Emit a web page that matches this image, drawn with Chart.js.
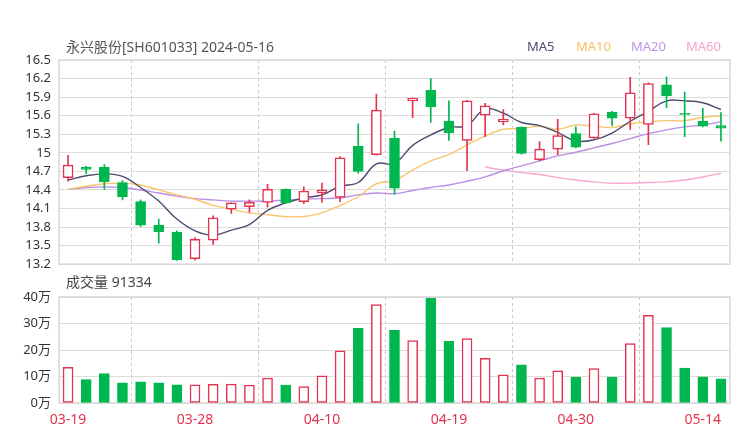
<!DOCTYPE html>
<html>
<head>
<meta charset="utf-8">
<script src="https://cdn.jsdelivr.net/npm/chart.js@4"></script>
<style>
    body { margin: 0; background: #fff; }
    #wrap { position: relative; width: 740px; height: 440px; font-family: 'Noto Sans', 'Noto Sans CJK SC', sans-serif; }
    canvas { position: absolute; left: 0; }
    .txt { position: absolute; white-space: nowrap; line-height: 20px; }
</style>
</head>
<body>
<div id="wrap">
    <canvas id="klineChart" width="740" height="280" style="top:0"></canvas>
    <canvas id="volumeChart" width="740" height="165" style="top:275px"></canvas>
    <div class="txt" style="left:66px;top:37px;font-size:14px;color:#555">永兴股份[SH601033] 2024-05-16</div>
    <div class="txt" style="left:527px;top:36px;font-size:13px;color:#4d4b70">MA5</div>
    <div class="txt" style="left:576px;top:36px;font-size:13px;color:#f6c162">MA10</div>
    <div class="txt" style="left:631px;top:36px;font-size:13px;color:#c095e8">MA20</div>
    <div class="txt" style="left:686px;top:36px;font-size:13px;color:#f5a3cb">MA60</div>
    <div class="txt" style="left:66px;top:272px;font-size:14px;color:#444">成交量 91334</div>
</div>
<script>
const dates = ['03-19', '03-20', '03-21', '03-22', '03-25', '03-26', '03-27', '03-28', '03-29', '04-01',
    '04-02', '04-03', '04-08', '04-09', '04-10', '04-11', '04-12', '04-15', '04-16', '04-17',
    '04-18', '04-19', '04-22', '04-23', '04-24', '04-25', '04-26', '04-29', '04-30', '05-06',
    '05-07', '05-08', '05-09', '05-10', '05-13', '05-14', '05-15'];

const open = [14.60, 14.77, 14.77, 14.52, 14.21, 13.83, 13.72, 13.29, 13.59, 14.09,
    14.13, 14.20, 14.41, 14.21, 14.35, 14.28, 15.11, 14.97, 15.24, 15.84,
    16.01, 15.51, 15.20, 15.61, 15.50, 15.41, 14.89, 15.06, 15.31, 15.24,
    15.66, 15.56, 15.46, 16.10, 15.64, 15.51, 15.44];
const close = [14.80, 14.73, 14.53, 14.29, 13.83, 13.72, 13.27, 13.60, 13.95, 14.19,
    14.20, 14.41, 14.19, 14.38, 14.40, 14.92, 14.70, 15.69, 14.43, 15.88,
    15.74, 15.32, 15.84, 15.76, 15.54, 14.99, 15.06, 15.28, 15.09, 15.63,
    15.56, 15.97, 16.12, 15.92, 15.62, 15.43, 15.40];
const high = [14.96, 14.78, 14.81, 14.55, 14.24, 13.93, 13.74, 13.63, 13.98, 14.19,
    14.24, 14.49, 14.42, 14.45, 14.51, 14.94, 15.47, 15.95, 15.35, 15.89,
    16.20, 15.84, 15.85, 15.80, 15.70, 15.42, 15.18, 15.54, 15.42, 15.64,
    15.67, 16.22, 16.13, 16.23, 15.98, 15.72, 15.65];
const low = [14.54, 14.66, 14.41, 14.24, 13.81, 13.54, 13.26, 13.27, 13.52, 14.02,
    14.04, 14.12, 14.18, 14.18, 14.20, 14.21, 14.67, 14.96, 14.33, 15.57,
    15.49, 15.20, 14.71, 15.26, 15.45, 14.98, 14.87, 14.97, 15.08, 15.23,
    15.44, 15.38, 15.13, 15.73, 15.26, 15.42, 15.19];

// volume in 万
const volume = [13.5, 8.8, 11.1, 7.6, 8.0, 7.6, 6.9, 6.9, 7.0, 7.1,
    6.8, 9.4, 6.8, 6.2, 10.3, 19.7, 28.2, 37.1, 27.4, 23.6,
    39.5, 23.3, 24.3, 16.9, 10.6, 14.4, 9.4, 12.1, 9.8, 13.0,
    9.8, 22.4, 33.1, 28.5, 13.2, 9.9, 9.13];

const ma5 = [14.56, 14.63, 14.66, 14.62, 14.44, 14.22, 13.93, 13.74, 13.67, 13.75,
    13.84, 14.07, 14.19, 14.27, 14.32, 14.46, 14.52, 14.82, 14.83, 15.12,
    15.29, 15.41, 15.44, 15.71, 15.64, 15.49, 15.44, 15.33, 15.19, 15.21,
    15.32, 15.51, 15.67, 15.84, 15.84, 15.81, 15.70];
const ma10 = [14.41, 14.46, 14.50, 14.51, 14.48, 14.40, 14.32, 14.25, 14.15, 14.09,
    14.03, 14.00, 13.97, 13.97, 14.03, 14.15, 14.29, 14.50, 14.55, 14.72,
    14.87, 14.97, 15.13, 15.27, 15.38, 15.39, 15.43, 15.38, 15.45, 15.43,
    15.41, 15.47, 15.50, 15.52, 15.52, 15.57, 15.60];
const ma20 = [14.41, 14.44, 14.45, 14.44, 14.40, 14.35, 14.30, 14.26, 14.24, 14.22,
    14.22, 14.22, 14.24, 14.25, 14.26, 14.27, 14.32, 14.35, 14.34, 14.39,
    14.44, 14.48, 14.54, 14.61, 14.71, 14.79, 14.87, 14.95, 15.01, 15.08,
    15.15, 15.23, 15.31, 15.37, 15.42, 15.45, 15.50];
const ma60 = [null, null, null, null, null, null, null, null, null, null,
    null, null, null, null, null, null, null, null, null, null,
    null, null, null, 14.77, 14.72, 14.68, 14.65, 14.60, 14.56, 14.53,
    14.51, 14.51, 14.52, 14.53, 14.56, 14.61, 14.67];

const priceTicks = [13.2, 13.5, 13.8, 14.1, 14.4, 14.7, 15, 15.3, 15.6, 15.9, 16.2, 16.5];
const volumeTicks = [0, 10, 20, 30, 40];

const RED = '#e5334f';
const GREEN = '#00b64f';
const FONT = "'Noto Sans', 'Noto Sans CJK SC', sans-serif";

const isUp = open.map((o, i) => close[i] >= o);
const fillColors = isUp.map(u => u ? '#ffffff' : GREEN);
const lineColors = isUp.map(u => u ? RED : GREEN);

const framePlugin = {
    id: 'frame',
    beforeDatasetsDraw(chart) {
        const a = chart.chartArea;
        const c = chart.ctx;
        c.save();
        c.strokeStyle = '#d8d8d8';
        c.lineWidth = 1.5;
        c.strokeRect(a.left, a.top, a.right - a.left, a.bottom - a.top);
        c.restore();
    }
};

function dashedColumns(ctx) {
    return ctx.index % 7 === 4 ? '#c8c8c8' : 'rgba(0,0,0,0)';
}

function maLine(label, data, color) {
    return {
        type: 'line',
        label: label,
        data: data,
        borderColor: color,
        borderWidth: 1.4,
        pointRadius: 0,
        tension: 0.4,
        spanGaps: false,
        order: 2
    };
}

new Chart(document.getElementById('klineChart'), {
    type: 'bar',
    data: {
        labels: dates,
        datasets: [
            {
                label: 'body',
                data: open.map((o, i) => [o, close[i]]),
                backgroundColor: fillColors,
                borderColor: lineColors,
                borderWidth: 1.5,
                borderSkipped: false,
                barThickness: 10,
                grouped: false,
                order: 0
            },
            {
                label: 'wick',
                data: low.map((l, i) => [l, high[i]]),
                backgroundColor: lineColors,
                borderWidth: 0,
                barThickness: 1,
                grouped: false,
                order: 1
            },
            maLine('MA5', ma5, '#4d4b70'),
            maLine('MA10', ma10, '#f7c66e'),
            maLine('MA20', ma20, '#bb8de8'),
            maLine('MA60', ma60, '#f7a6cf')
        ]
    },
    options: {
        responsive: false,
        animation: false,
        devicePixelRatio: 1,
        layout: { padding: { top: 60, right: 10, left: 0, bottom: 0 } },
        plugins: { legend: { display: false }, tooltip: { enabled: false } },
        scales: {
            x: {
                offset: true,
                grid: { offset: true, drawTicks: false, color: dashedColumns, lineWidth: 1 },
                border: { display: false, dash: [3, 3] },
                ticks: { display: false },
                afterFit: s => { s.height = 8; }
            },
            y: {
                min: 13.2,
                max: 16.5,
                afterBuildTicks: s => { s.ticks = priceTicks.map(v => ({ value: v })); },
                grid: { color: '#dcdcdc', drawTicks: false },
                border: { display: false },
                ticks: {
                    padding: 8,
                    color: '#333',
                    font: { family: FONT, size: 13 },
                    callback: v => String(+v.toFixed(1))
                },
                afterFit: s => { s.width = 59; }
            }
        }
    },
    plugins: [framePlugin]
});

new Chart(document.getElementById('volumeChart'), {
    type: 'bar',
    data: {
        labels: dates,
        datasets: [{
            label: '成交量',
            data: volume,
            backgroundColor: fillColors,
            borderColor: lineColors,
            borderWidth: 1.5,
            borderSkipped: false,
            barThickness: 10
        }]
    },
    options: {
        responsive: false,
        animation: false,
        devicePixelRatio: 1,
        layout: { padding: { top: 22, right: 10, left: 0, bottom: 0 } },
        plugins: { legend: { display: false }, tooltip: { enabled: false } },
        scales: {
            x: {
                offset: true,
                grid: { offset: true, drawTicks: false, color: dashedColumns, lineWidth: 1 },
                border: { display: false, dash: [3, 3] },
                ticks: {
                    autoSkip: false,
                    maxRotation: 0,
                    padding: 9,
                    color: RED,
                    font: { family: FONT, size: 14 },
                    callback: (v, i) => i % 7 === 0 ? dates[i] : ''
                },
                afterFit: s => { s.height = 37; }
            },
            y: {
                min: 0,
                max: 40,
                afterBuildTicks: s => { s.ticks = volumeTicks.map(v => ({ value: v })); },
                grid: { color: '#dcdcdc', drawTicks: false },
                border: { display: false },
                ticks: {
                    padding: 8,
                    color: '#333',
                    font: { family: FONT, size: 13 },
                    callback: v => v + '万'
                },
                afterFit: s => { s.width = 59; }
            }
        }
    },
    plugins: [framePlugin]
});
</script>
</body>
</html>
